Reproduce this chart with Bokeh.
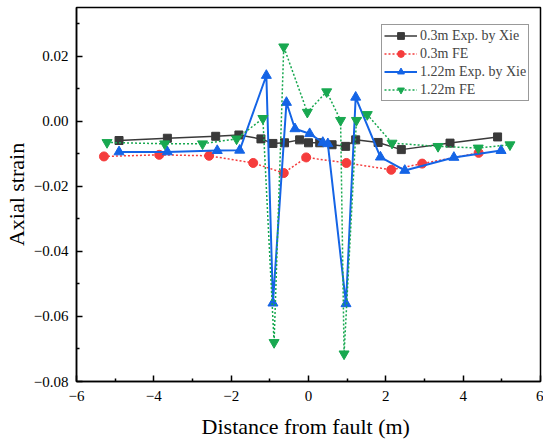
from bokeh.plotting import figure
from bokeh.models import Range1d, FixedTicker, CustomJSTickFormatter, Legend, LegendItem
from bokeh.embed import file_html
from bokeh.resources import INLINE

# 0.3m Exp. by Xie
x_exp03 = [-4.9, -3.65, -2.4, -1.8, -1.23, -0.92, -0.62, -0.23, 0.0, 0.29, 0.61, 0.96, 1.22, 1.8, 2.4, 3.66, 4.89]
y_exp03 = [-0.0059, -0.0052, -0.0046, -0.0042, -0.0054, -0.0068, -0.0066, -0.0057, -0.0066, -0.0066, -0.0072, -0.0077, -0.0057, -0.0065, -0.0087, -0.0067, -0.0048]

# 0.3m FE
x_fe03 = [-5.29, -3.86, -2.57, -1.43, -0.64, -0.06, 0.98, 2.14, 2.94, 4.40]
y_fe03 = [-0.0108, -0.0103, -0.0106, -0.0128, -0.0159, -0.0111, -0.0128, -0.0149, -0.0130, -0.0097]

# 1.22m Exp. by Xie
x_exp122 = [-4.9, -3.65, -2.36, -1.78, -1.09, -0.92, -0.57, -0.35, 0.03, 0.37, 0.50, 0.97, 1.22, 1.86, 2.49, 3.76, 4.98]
y_exp122 = [-0.0094, -0.0094, -0.0090, -0.0089, 0.0141, -0.0559, 0.0058, -0.0023, -0.0038, -0.0065, -0.0069, -0.0561, 0.0074, -0.0110, -0.0151, -0.0111, -0.0090]

# 1.22m FE
x_fe122 = [-5.21, -3.72, -2.74, -1.86, -1.18, -0.89, -0.64, -0.03, 0.47, 0.83, 0.92, 1.24, 1.52, 2.16, 3.35, 4.39, 5.21]
y_fe122 = [-0.0065, -0.0069, -0.0069, -0.0054, 0.0009, -0.0680, 0.0229, 0.0028, 0.0091, 0.0003, -0.0715, 0.0003, 0.0021, -0.0067, -0.0077, -0.0082, -0.0072]

x_ticks = [-6, -4, -2, 0, 2, 4, 6]
x_minor = [-5, -3, -1, 1, 3, 5]
y_ticks = [-0.08, -0.06, -0.04, -0.02, 0.0, 0.02]
y_minor = [-0.07, -0.05, -0.03, -0.01, 0.01, 0.03]

FONT = "Liberation Serif"

p = figure(frame_width=464, frame_height=374, output_backend="svg", toolbar_location=None,
           x_range=Range1d(-6, 6), y_range=Range1d(-0.08, 0.035),
           min_border_top=7, min_border_right=3, min_border_bottom=20, min_border_left=68)
p.grid.visible = False
p.outline_line_color = "black"
p.outline_line_width = 1.5

black = "#3a3a3a"
red = "#f53c3c"
blue = "#1464e6"
green = "#18a850"

l1 = p.line(x_exp03, y_exp03, line_color=black, line_width=1.5)
s1 = p.scatter(x_exp03, y_exp03, marker="square", size=8, fill_color=black, line_color=black)
l2 = p.line(x_fe03, y_fe03, line_color=red, line_width=1.5, line_dash="2 2")
s2 = p.scatter(x_fe03, y_fe03, marker="circle", size=9, fill_color=red, line_color=red)
l3 = p.line(x_exp122, y_exp122, line_color=blue, line_width=2)
s3 = p.scatter(x_exp122, y_exp122, marker="triangle", size=10, fill_color=blue, line_color=blue)
l4 = p.line(x_fe122, y_fe122, line_color=green, line_width=1.5, line_dash="2 2")
s4 = p.scatter(x_fe122, y_fe122, marker="inverted_triangle", size=10, fill_color=green, line_color=green)

legend = Legend(items=[
    LegendItem(label="0.3m Exp. by Xie", renderers=[l1, s1]),
    LegendItem(label="0.3m FE", renderers=[l2, s2]),
    LegendItem(label="1.22m Exp. by Xie", renderers=[l3, s3]),
    LegendItem(label="1.22m FE", renderers=[l4, s4]),
], location=(305, 280))
legend.label_text_font = FONT
legend.label_text_font_size = "14px"
legend.label_standoff = 3
legend.glyph_width = 33
legend.glyph_height = 17
legend.label_height = 17
legend.spacing = 1
legend.padding = 2
legend.margin = 0
legend.border_line_color = "#333333"
legend.border_line_width = 1
p.add_layout(legend)

p.xaxis.ticker = FixedTicker(ticks=x_ticks, minor_ticks=x_minor)
p.yaxis.ticker = FixedTicker(ticks=y_ticks, minor_ticks=y_minor)
p.xaxis.formatter = CustomJSTickFormatter(code="return (tick < 0 ? '\u2212' : '') + Math.abs(tick).toFixed(0);")
p.yaxis.formatter = CustomJSTickFormatter(code="return (tick < -1e-9 ? '\u2212' : '') + Math.abs(tick).toFixed(2);")

for ax in (p.xaxis, p.yaxis):
    ax.major_tick_in = 6
    ax.major_tick_out = 0
    ax.minor_tick_in = 3
    ax.minor_tick_out = 0
    ax.axis_line_width = 1.5
    ax.major_tick_line_width = 1.5
    ax.minor_tick_line_width = 1.5
    ax.major_label_text_font = FONT
    ax.major_label_text_font_size = "15px"
    ax.major_label_text_color = "black"
    ax.axis_label_text_font = FONT
    ax.axis_label_text_font_size = "22px"
    ax.axis_label_text_font_style = "normal"
    ax.axis_label_text_color = "black"

p.xaxis.axis_label = "Distance from fault  (m)"
p.yaxis.axis_label = "Axial strain"
p.xaxis.major_label_standoff = 9
p.xaxis.axis_label_standoff = 10
p.yaxis.major_label_standoff = 8
p.yaxis.axis_label_standoff = 2

open("out.html", "w").write(file_html(p, INLINE))
